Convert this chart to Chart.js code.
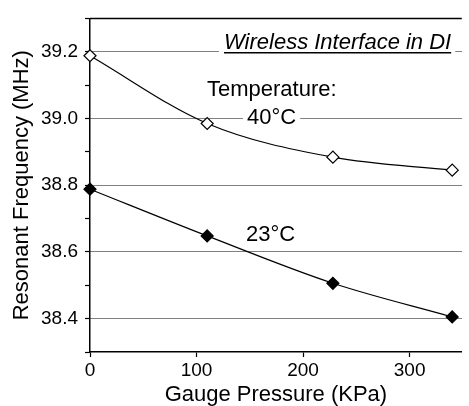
<!DOCTYPE html>
<html>
<head>
<meta charset="utf-8">
<script src="https://cdn.jsdelivr.net/npm/chart.js@4.4.0/dist/chart.umd.min.js"></script>
<style>
  html, body { margin: 0; padding: 0; background: #fff; }
  #wrap { width: 469px; height: 406px; }
</style>
</head>
<body>
<div id="wrap"><canvas id="chart" width="469" height="406"></canvas></div>
<script>
// Values
const pressure = [0, 110, 228, 340];               // KPa
const freq40 = [39.188, 38.985, 38.884, 38.845];   // MHz at 40°C
const freq23 = [38.788, 38.648, 38.506, 38.405];   // MHz at 23°C
const xTicks = [0, 100, 200, 300];
const yTicks = [38.3, 38.4, 38.5, 38.6, 38.7, 38.8, 38.9, 39.0, 39.1, 39.2, 39.3];
const yLabelTicks = [38.4, 38.6, 38.8, 39.0, 39.2];

const FONT = '"Liberation Sans", Arial, sans-serif';

function isMajor(v) {
  return yLabelTicks.some(t => Math.abs(t - v) < 1e-6);
}

function toPoints(xs, ys) {
  return xs.map((x, i) => ({ x: x, y: ys[i] }));
}

// Frame line on top plus the text notes inside the plot
const notes = {
  id: 'notes',
  beforeDatasetsDraw(chart) {
    const { ctx, chartArea: a } = chart;
    ctx.save();
    ctx.strokeStyle = '#000';
    ctx.lineWidth = 1.5;
    ctx.beginPath();
    ctx.moveTo(a.left, a.top);
    ctx.lineTo(a.right, a.top);
    ctx.stroke();

    ctx.textBaseline = 'alphabetic';
    ctx.textAlign = 'left';
    ctx.fillStyle = '#000';

    // italic, underlined caption with white box over the grid line
    ctx.font = 'italic 22px ' + FONT;
    let txt = 'Wireless Interface in DI';
    let w = ctx.measureText(txt).width;
    let x = 224, y = 49;
    ctx.fillStyle = '#fff';
    ctx.fillRect(x - 5, y - 18, w + 9, 26);
    ctx.fillStyle = '#000';
    ctx.fillText(txt, x, y);
    ctx.fillRect(x, y + 3, w, 1.5);

    ctx.font = '22px ' + FONT;
    ctx.fillText('Temperature:', 207, 96);

    txt = '40\u00B0C';
    w = ctx.measureText(txt).width;
    ctx.fillStyle = '#fff';
    ctx.fillRect(243, 104, w + 8, 22);
    ctx.fillStyle = '#000';
    ctx.fillText(txt, 247, 124);

    ctx.fillText('23\u00B0C', 246, 241);
    ctx.restore();
  }
};

new Chart(document.getElementById('chart'), {
  type: 'line',
  data: {
    datasets: [{
      label: '40°C',
      data: toPoints(pressure, freq40),
      borderColor: '#000',
      borderWidth: 1.2,
      pointStyle: 'rectRot',
      pointRadius: 6,
      pointBackgroundColor: '#fff',
      pointBorderColor: '#000',
      pointBorderWidth: 1.2,
      cubicInterpolationMode: 'monotone',
      clip: false
    }, {
      label: '23°C',
      data: toPoints(pressure, freq23),
      borderColor: '#000',
      borderWidth: 1.2,
      pointStyle: 'rectRot',
      pointRadius: 6,
      pointBackgroundColor: '#000',
      pointBorderColor: '#000',
      pointBorderWidth: 1.2,
      cubicInterpolationMode: 'monotone',
      clip: false
    }]
  },
  options: {
    responsive: false,
    animation: false,
    devicePixelRatio: 1,
    layout: { padding: { top: 13, right: 0, bottom: 0, left: 0 } },
    plugins: { legend: { display: false }, tooltip: { enabled: false } },
    scales: {
      x: {
        type: 'linear',
        min: 0,
        max: 349,
        afterFit: s => { s.height = 54; },
        afterBuildTicks: s => { s.ticks = xTicks.map(v => ({ value: v })); },
        grid: { drawOnChartArea: false, drawTicks: true, tickLength: 5, tickColor: '#000', tickWidth: 1.2 },
        border: { color: '#000', width: 1.5 },
        ticks: { color: '#000', padding: 2, maxRotation: 0, font: { family: FONT, size: 19 } },
        title: {
          display: true,
          text: 'Gauge Pressure (KPa)',
          color: '#000',
          font: { family: FONT, size: 22 },
          padding: { top: 0, bottom: -2 }
        }
      },
      y: {
        min: 38.3,
        max: 39.3,
        afterFit: s => { s.width = 90; },
        afterBuildTicks: s => { s.ticks = yTicks.map(v => ({ value: v })); },
        grid: {
          color: c => (c.tick && isMajor(c.tick.value)) ? '#000' : 'rgba(0,0,0,0)',
          lineWidth: 1,
          drawTicks: true,
          tickLength: 5,
          tickColor: '#000',
          tickWidth: 1.2
        },
        border: { color: '#000', width: 1.5, dash: [1, 1] },
        ticks: {
          color: '#000',
          padding: 7,
          font: { family: FONT, size: 19 },
          callback: v => isMajor(v) ? v.toFixed(1) : ''
        },
        title: {
          display: true,
          text: 'Resonant Frequency (MHz)',
          color: '#000',
          font: { family: FONT, size: 22 },
          padding: { top: 9, bottom: 0 }
        }
      }
    }
  },
  plugins: [notes]
});
</script>
</body>
</html>
